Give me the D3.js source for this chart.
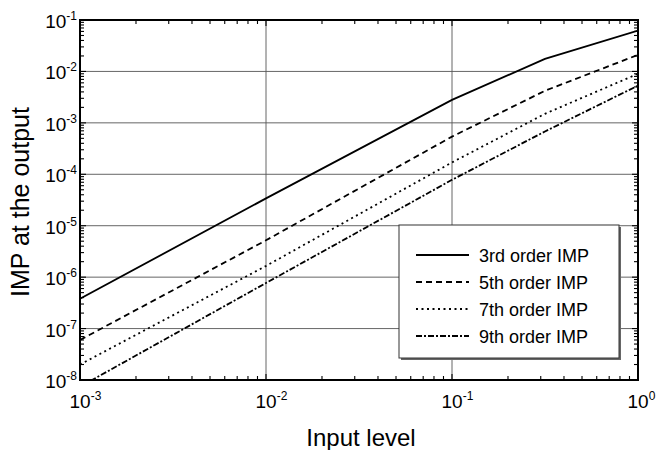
<!DOCTYPE html>
<html>
<head>
<meta charset="utf-8">
<script src="https://cdn.jsdelivr.net/npm/d3@7/dist/d3.min.js"></script>
<style>
  body { margin: 0; background: #fff; }
  svg { display: block; font-family: "Liberation Sans", Arial, sans-serif; }
</style>
</head>
<body>
<div id="chart"></div>
<script>
// Values
const inputLevels = [1e-3, 1e-2, 1e-1, 0.316, 1];
const imp3 = [3.8e-7, 3.4e-5, 2.8e-3, 1.75e-2, 6.2e-2];
const imp5 = [6e-8, 5.2e-6, 5.4e-4, 4.2e-3, 2.1e-2];
const imp7 = [2e-8, 1.65e-6, 1.7e-4, 1.5e-3, 9e-3];
const imp9 = [7.4e-9, 7.7e-7, 7.8e-5, 6.8e-4, 5.3e-3];

const seriesNames = ['3rd order IMP', '5th order IMP', '7th order IMP', '9th order IMP'];
const seriesValues = [imp3, imp5, imp7, imp9];
const seriesDash = [null, '6,4', '2,3.5', '6,2,2,2'];

const xDecades = [-3, -2, -1, 0];
const yDecades = [-8, -7, -6, -5, -4, -3, -2, -1];

const width = 660, height = 450;
const plot = { left: 80, right: 638, top: 20, bottom: 380 };

const svg = d3.select('#chart').append('svg')
  .attr('width', width)
  .attr('height', height);

const x = d3.scaleLog().domain([1e-3, 1]).range([plot.left, plot.right]);
const y = d3.scaleLog().domain([1e-8, 1e-1]).range([plot.bottom, plot.top]);

// grid lines at each decade
const grid = svg.append('g').attr('stroke', '#555').attr('stroke-width', 0.9);
xDecades.forEach(d => {
  grid.append('line')
    .attr('x1', x(10 ** d)).attr('x2', x(10 ** d))
    .attr('y1', plot.top).attr('y2', plot.bottom);
});
yDecades.forEach(d => {
  grid.append('line')
    .attr('x1', plot.left).attr('x2', plot.right)
    .attr('y1', y(10 ** d)).attr('y2', y(10 ** d));
});

// clip curves to plot area
svg.append('clipPath').attr('id', 'clip')
  .append('rect')
  .attr('x', plot.left).attr('y', plot.top)
  .attr('width', plot.right - plot.left)
  .attr('height', plot.bottom - plot.top);

const line = d3.line()
  .x(d => x(d[0]))
  .y(d => y(d[1]));

seriesValues.forEach((vals, i) => {
  svg.append('path')
    .attr('clip-path', 'url(#clip)')
    .attr('d', line(inputLevels.map((v, j) => [v, vals[j]])))
    .attr('fill', 'none')
    .attr('stroke', '#000')
    .attr('stroke-width', 1.8)
    .attr('stroke-dasharray', seriesDash[i]);
});

// ticks (inward, on all four sides)
const tickG = svg.append('g').attr('stroke', '#000').attr('stroke-width', 1.1);
const xTicks = x.ticks();
const yTicks = y.ticks();
xTicks.forEach(t => {
  const major = Math.abs(Math.log10(t) - Math.round(Math.log10(t))) < 1e-6;
  const len = major ? 6 : 4;
  tickG.append('line').attr('x1', x(t)).attr('x2', x(t))
    .attr('y1', plot.bottom).attr('y2', plot.bottom - len);
  tickG.append('line').attr('x1', x(t)).attr('x2', x(t))
    .attr('y1', plot.top).attr('y2', plot.top + len);
});
yTicks.forEach(t => {
  const major = Math.abs(Math.log10(t) - Math.round(Math.log10(t))) < 1e-6;
  const len = major ? 6 : 4;
  tickG.append('line').attr('y1', y(t)).attr('y2', y(t))
    .attr('x1', plot.left).attr('x2', plot.left + len);
  tickG.append('line').attr('y1', y(t)).attr('y2', y(t))
    .attr('x1', plot.right).attr('x2', plot.right - len);
});

// frame
svg.append('rect')
  .attr('x', plot.left).attr('y', plot.top)
  .attr('width', plot.right - plot.left)
  .attr('height', plot.bottom - plot.top)
  .attr('fill', 'none')
  .attr('stroke', '#000')
  .attr('stroke-width', 2);

// tick labels
xDecades.forEach(d => {
  const t = svg.append('text')
    .attr('x', x(10 ** d) - 10.5)
    .attr('y', plot.bottom + 28)
    .style('font-size', '19px');
  t.append('tspan').text('10');
  t.append('tspan').attr('dy', -8).style('font-size', '12px').text(d);
});
yDecades.forEach(d => {
  const t = svg.append('text')
    .attr('x', plot.left - 3)
    .attr('y', y(10 ** d) + 8)
    .attr('text-anchor', 'end')
    .style('font-size', '19px');
  t.append('tspan').text('10');
  t.append('tspan').attr('dy', -8).style('font-size', '12px').text(d);
});

// axis titles
svg.append('text')
  .attr('x', (plot.left + plot.right) / 2 + 2)
  .attr('y', 446)
  .attr('text-anchor', 'middle')
  .style('font-size', '24px')
  .text('Input level');

svg.append('text')
  .attr('transform', 'translate(29,202) rotate(-90)')
  .attr('text-anchor', 'middle')
  .style('font-size', '25px')
  .text('IMP at the output');

// legend
const legend = { x: 399, y: 225, w: 220, h: 133 };
svg.append('rect')
  .attr('x', legend.x + 2).attr('y', legend.y + 2)
  .attr('width', legend.w).attr('height', legend.h)
  .attr('fill', '#666');
svg.append('rect')
  .attr('x', legend.x).attr('y', legend.y)
  .attr('width', legend.w).attr('height', legend.h)
  .attr('fill', '#fff')
  .attr('stroke', '#333')
  .attr('stroke-width', 1);

seriesNames.forEach((name, i) => {
  const cy = legend.y + 30 + i * 27;
  svg.append('line')
    .attr('x1', legend.x + 17).attr('x2', legend.x + 70)
    .attr('y1', cy).attr('y2', cy)
    .attr('stroke', '#000')
    .attr('stroke-width', 1.8)
    .attr('stroke-dasharray', seriesDash[i]);
  svg.append('text')
    .attr('x', legend.x + 80)
    .attr('y', cy + 7)
    .style('font-size', '18px')
    .text(name);
});
</script>
</body>
</html>
